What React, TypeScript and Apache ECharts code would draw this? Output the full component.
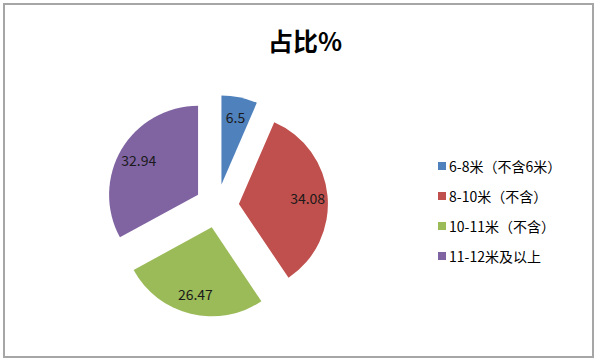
import React, { useEffect, useRef } from "react";
import * as echarts from "echarts";

const categories = ["6-8米（不含6米）", "8-10米（不含）", "10-11米（不含）", "11-12米及以上"];
const values = [6.5, 34.08, 26.47, 32.94];
const colors = ["#4F81BD", "#C0504D", "#9BBB59", "#8064A2"];
const title = "占比%";

export default function App() {
  const ref = useRef<HTMLDivElement>(null);
  useEffect(() => {
    document.body.style.margin = "0";
    const chart = echarts.init(ref.current!, null, { renderer: "svg" });
    const font = "'Noto Sans CJK SC', 'Noto Sans', sans-serif";
    const baseData = categories.map((name, i) => ({
      name,
      value: values[i],
      selected: true,
      itemStyle: { color: colors[i] },
    }));
    chart.setOption({
      animation: false,
      textStyle: { fontFamily: font },
      title: {
        text: title,
        left: 300,
        top: 22,
        textAlign: "center",
        textStyle: { fontSize: 25, fontWeight: "bold", color: "#000", fontFamily: font },
      },
      legend: {
        orient: "vertical",
        left: 433,
        top: 154,
        itemWidth: 8,
        itemHeight: 8,
        itemGap: 16,
        icon: "rect",
        data: categories,
        textStyle: { fontSize: 14, color: "#000", fontFamily: font, padding: [0, 0, 0, -2] },
      },
      graphic: [
        {
          type: "rect",
          shape: { x: 4, y: 4, width: 589, height: 353 },
          style: { fill: "none", stroke: "#a6a6a6", lineWidth: 2 },
          silent: true,
        },
      ],
      series: [
        {
          type: "pie",
          center: [217, 206],
          radius: [0, 89],
          startAngle: 90,
          selectedMode: "multiple",
          selectedOffset: 22,
          label: { show: false },
          labelLine: { show: false },
          emphasis: { scale: false, disabled: true },
          data: baseData,
        },
        {
          type: "pie",
          center: [217, 206],
          radius: [43, 89],
          startAngle: 90,
          selectedMode: "multiple",
          selectedOffset: 22,
          silent: true,
          itemStyle: { color: "rgba(0,0,0,0)" },
          label: {
            show: true,
            position: "inside",
            fontSize: 14,
            color: "#1a1a1a",
            fontFamily: font,
            formatter: (p: any) => String(p.value),
          },
          labelLine: { show: false },
          emphasis: { disabled: true },
          data: categories.map((name, i) => ({
            name,
            value: values[i],
            selected: true,
            itemStyle: { color: "rgba(0,0,0,0)" },
          })),
        },
      ],
    });
    return () => chart.dispose();
  }, []);
  return <div ref={ref} style={{ width: 600, height: 364 }} />;
}
